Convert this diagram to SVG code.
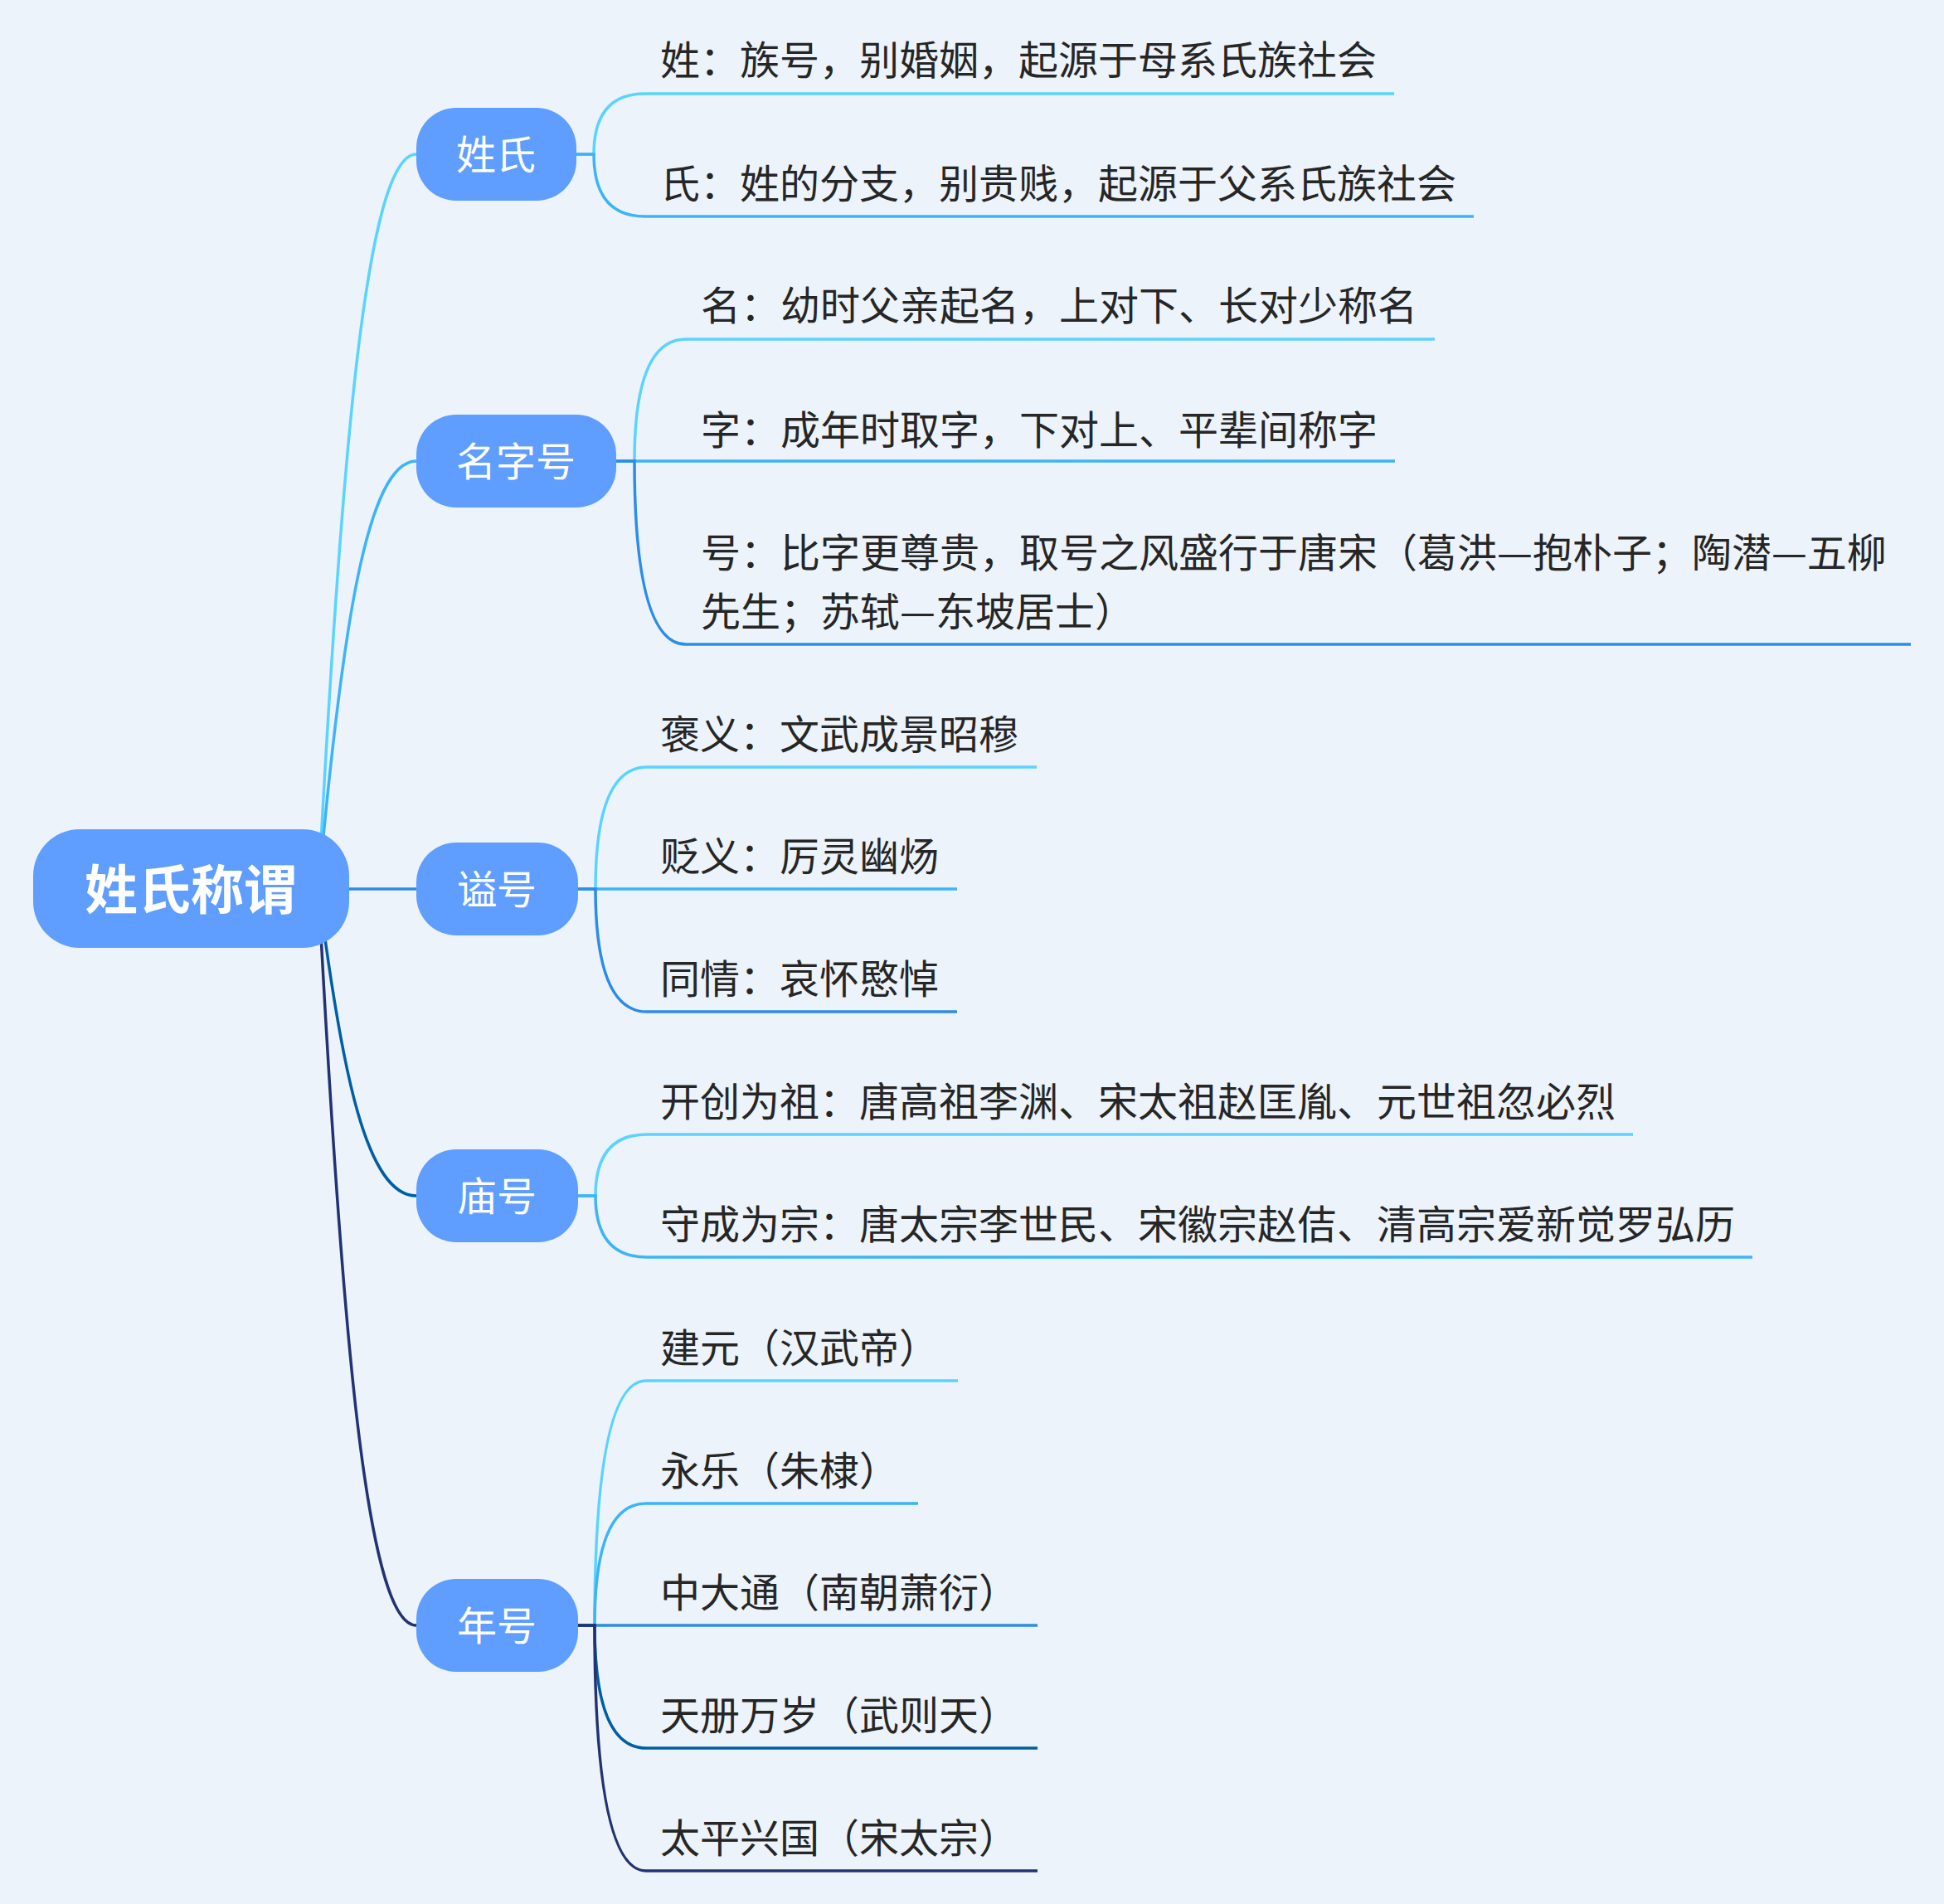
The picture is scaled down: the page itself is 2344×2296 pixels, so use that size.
<svg xmlns="http://www.w3.org/2000/svg" width="2344" height="2296" viewBox="0 0 2344 2296">
<defs>
<style>
.bg{fill:#ECF3FA}
.node{fill:#5F9EFF}
.root-t{font-family:"Noto Sans CJK SC","Noto Sans",sans-serif;font-size:64px;font-weight:700;fill:#FFFFFF;text-anchor:middle}
.node-t{font-family:"Noto Sans CJK SC","Noto Sans",sans-serif;font-size:48px;fill:#FFFFFF;text-anchor:middle}
.leaf-t{font-family:"Noto Sans CJK SC","Noto Sans",sans-serif;font-size:48px;fill:#262626}
.c{fill:none;stroke-width:3.5;stroke-linecap:butt}
.c1{stroke:#5AD4FF}
.c2{stroke:#3DB4F7}
.c3{stroke:#2B8DE8}
.c4{stroke:#005FA3}
.c5{stroke:#233272}
</style>
</defs>
<rect class="bg" x="0" y="0" width="2344" height="2296"/>
<g id="connectors">
  <!-- root to main topics -->
  <path class="c c1" d="M384 1072 C412 540 442 186 502 186"/>
  <path class="c c2" d="M384 1072 C412 762 442 556 502 556"/>
  <path class="c c3" d="M384 1072 L502 1072"/>
  <path class="c c4" d="M384 1072 C412 1294 442 1442 502 1442"/>
  <path class="c c5" d="M384 1072 C412 1605 442 1960 502 1960"/>
  <!-- 姓氏 -->
  <path class="c c1" d="M695 186 L716 186 Q716 113 778 113 L1681 113"/>
  <path class="c c2" d="M695 186 L716 186 Q716 261 778 261 L1777 261"/>
  <!-- 名字号 -->
  <path class="c c1" d="M743 556 L765 556 Q765 409 827 409 L1730 409"/>
  <path class="c c2" d="M743 556 L1682 556"/>
  <path class="c c3" d="M743 556 L765 556 Q765 777 827 777 L2304 777"/>
  <!-- 谥号 -->
  <path class="c c1" d="M697 1072 L718 1072 Q718 925 780 925 L1250 925"/>
  <path class="c c2" d="M697 1072 L1154 1072"/>
  <path class="c c3" d="M697 1072 L718 1072 Q718 1220 780 1220 L1154 1220"/>
  <!-- 庙号 -->
  <path class="c c1" d="M697 1442 L718 1442 Q718 1368 780 1368 L1969 1368"/>
  <path class="c c2" d="M697 1442 L718 1442 Q718 1516 780 1516 L2113 1516"/>
  <!-- 年号 -->
  <path class="c c1" d="M697 1960 L717 1960 Q717 1665 779 1665 L1155 1665"/>
  <path class="c c2" d="M697 1960 L717 1960 Q717 1813 779 1813 L1107 1813"/>
  <path class="c c3" d="M697 1960 L1251 1960"/>
  <path class="c c4" d="M697 1960 L717 1960 Q717 2108 779 2108 L1251 2108"/>
  <path class="c c5" d="M697 1960 L717 1960 Q717 2256 779 2256 L1251 2256"/>
</g>
<g id="root">
  <rect class="node" x="40" y="1000" width="381" height="143" rx="56"/>
  <text class="root-t" x="230" y="1096">姓氏称谓</text>
</g>
<g id="node-xingshi">
  <rect class="node" x="502" y="130" width="193" height="112" rx="48"/>
  <text class="node-t" x="598" y="204">姓氏</text>
</g>
<g id="node-mingzihao">
  <rect class="node" x="502" y="500" width="241" height="112" rx="48"/>
  <text class="node-t" x="622" y="574">名字号</text>
</g>
<g id="node-shihao">
  <rect class="node" x="502" y="1016" width="195" height="112" rx="48"/>
  <text class="node-t" x="599" y="1090">谥号</text>
</g>
<g id="node-miaohao">
  <rect class="node" x="502" y="1386" width="195" height="112" rx="48"/>
  <text class="node-t" x="599" y="1460">庙号</text>
</g>
<g id="node-nianhao">
  <rect class="node" x="502" y="1904" width="195" height="112" rx="48"/>
  <text class="node-t" x="599" y="1978">年号</text>
</g>
<g id="leaf-xing"><text class="leaf-t" x="796" y="90">姓：族号，别婚姻，起源于母系氏族社会</text></g>
<g id="leaf-shi"><text class="leaf-t" x="796" y="239">氏：姓的分支，别贵贱，起源于父系氏族社会</text></g>
<g id="leaf-ming"><text class="leaf-t" x="845" y="386">名：幼时父亲起名，上对下、长对少称名</text></g>
<g id="leaf-zi"><text class="leaf-t" x="845" y="536">字：成年时取字，下对上、平辈间称字</text></g>
<g id="leaf-hao"><text class="leaf-t" x="845" y="684">号：比字更尊贵，取号之风盛行于唐宋（葛洪—抱朴子；陶潜—五柳</text><text class="leaf-t" x="845" y="755">先生；苏轼—东坡居士）</text></g>
<g id="leaf-baoyi"><text class="leaf-t" x="796" y="903">褒义：文武成景昭穆</text></g>
<g id="leaf-bianyi"><text class="leaf-t" x="796" y="1050">贬义：厉灵幽炀</text></g>
<g id="leaf-tongqing"><text class="leaf-t" x="796" y="1198">同情：哀怀愍悼</text></g>
<g id="leaf-kaichuang"><text class="leaf-t" x="796" y="1346">开创为祖：唐高祖李渊、宋太祖赵匡胤、元世祖忽必烈</text></g>
<g id="leaf-shoucheng"><text class="leaf-t" x="796" y="1494">守成为宗：唐太宗李世民、宋徽宗赵佶、清高宗爱新觉罗弘历</text></g>
<g id="leaf-jianyuan"><text class="leaf-t" x="796" y="1643">建元（汉武帝）</text></g>
<g id="leaf-yongle"><text class="leaf-t" x="796" y="1791">永乐（朱棣）</text></g>
<g id="leaf-zhongdatong"><text class="leaf-t" x="796" y="1938">中大通（南朝萧衍）</text></g>
<g id="leaf-tiance"><text class="leaf-t" x="796" y="2086">天册万岁（武则天）</text></g>
<g id="leaf-taiping"><text class="leaf-t" x="796" y="2234">太平兴国（宋太宗）</text></g>
</svg>
